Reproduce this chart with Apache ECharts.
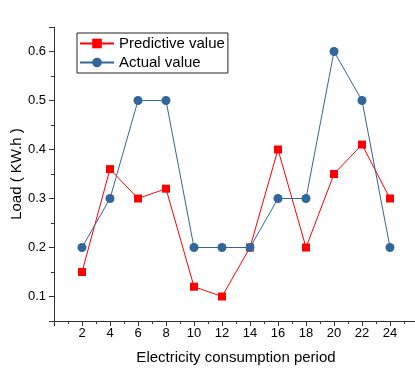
<!DOCTYPE html>
<html>
<head>
<meta charset="utf-8">
<script src="https://cdn.jsdelivr.net/npm/echarts@6/dist/echarts.min.js"></script>
<style>
html,body{margin:0;padding:0;background:#fff;}
#c{width:415px;height:369px;}
</style>
</head>
<body>
<div id="c"></div>
<script>
const periods = [2, 4, 6, 8, 10, 12, 14, 16, 18, 20, 22, 24];
const predictive = [0.15, 0.36, 0.30, 0.32, 0.12, 0.10, 0.20, 0.40, 0.20, 0.35, 0.41, 0.30];
const actual = [0.20, 0.30, 0.50, 0.50, 0.20, 0.20, 0.20, 0.30, 0.30, 0.60, 0.50, 0.20];
const seriesNames = ['Predictive value', 'Actual value'];
const xTitle = 'Electricity consumption period';
const yTitle = 'Load ( KW.h )';

const FONT = 'Liberation Sans, Arial, sans-serif';
const RED = '#FF0000';
const BLUE = '#336699';
const AXIS = '#333333';

const chart = echarts.init(document.getElementById('c'));
chart.setOption({
  animation: false,
  backgroundColor: '#fff',
  textStyle: { fontFamily: FONT },
  grid: { left: 54, right: -3, top: 27, bottom: 48, containLabel: false, outerBoundsMode: 'none' },
  legend: {
    orient: 'vertical',
    left: 77, top: 33,
    itemWidth: 34, itemHeight: 12, itemGap: 4,
    padding: [3, 3, 3, 2],
    borderColor: '#222', borderWidth: 1,
    textStyle: { fontSize: 15, color: '#000', fontFamily: FONT },
    data: seriesNames
  },
  xAxis: {
    type: 'value', min: 0, max: 26, interval: 2,
    name: xTitle, nameLocation: 'middle', nameGap: 29, nameMoveOverlap: false,
    nameTextStyle: { fontSize: 15, color: '#000', fontFamily: FONT },
    axisLine: { lineStyle: { color: AXIS, width: 1 } },
    axisTick: { show: true, inside: false, length: 5, lineStyle: { color: AXIS } },
    minorTick: { show: true, splitNumber: 2, length: 3, lineStyle: { color: AXIS } },
    splitLine: { show: false },
    axisLabel: {
      fontSize: 13, color: '#000', margin: 6, fontFamily: FONT,
      formatter: v => (v === 0 || v === 26) ? '' : String(v)
    }
  },
  yAxis: {
    type: 'value', min: 0.05, max: 0.65, splitNumber: 6,
    name: yTitle, nameLocation: 'middle', nameGap: 30, nameRotate: 90, nameMoveOverlap: false,
    nameTextStyle: { fontSize: 15, color: '#000', fontFamily: FONT },
    axisLine: { show: true, lineStyle: { color: AXIS, width: 1 } },
    axisTick: { show: true, inside: false, length: 5, lineStyle: { color: AXIS } },
    minorTick: { show: true, splitNumber: 2, length: 3, lineStyle: { color: AXIS } },
    splitLine: { show: false },
    axisLabel: {
      fontSize: 13, color: '#000', margin: 8, fontFamily: FONT,
      showMinLabel: false, showMaxLabel: false,
      formatter: v => {
        const r = Math.round(v * 100) / 100;
        if (Math.abs(r * 10 - Math.round(r * 10)) > 1e-6) return '';
        return r.toFixed(1);
      }
    }
  },
  series: [
    {
      name: seriesNames[0], type: 'line',
      data: periods.map((p, i) => [p, predictive[i]]),
      symbol: 'rect', symbolSize: 8,
      itemStyle: { color: RED },
      lineStyle: { color: RED, width: 1 }
    },
    {
      name: seriesNames[1], type: 'line',
      data: periods.map((p, i) => [p, actual[i]]),
      symbol: 'circle', symbolSize: 9,
      itemStyle: { color: BLUE },
      lineStyle: { color: BLUE, width: 1 }
    }
  ]
});
</script>
</body>
</html>
